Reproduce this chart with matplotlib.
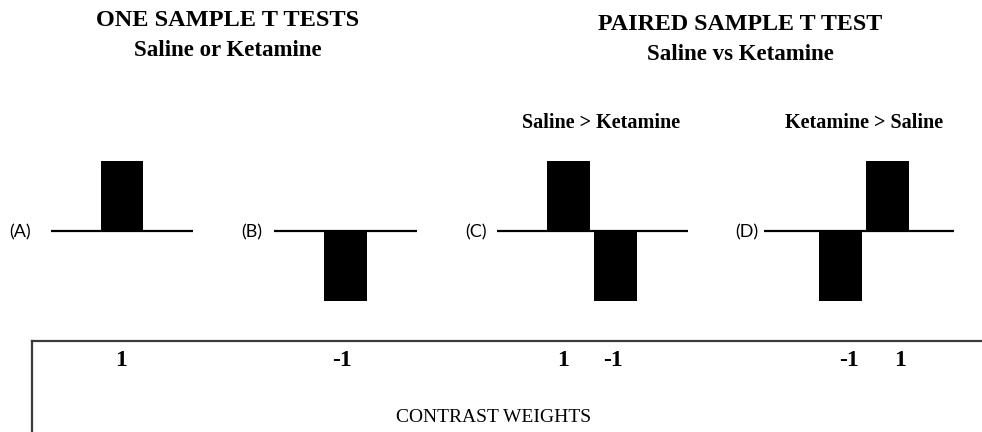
import matplotlib
matplotlib.use('Agg')
import matplotlib.pyplot as plt
from matplotlib.lines import Line2D

# contrast weights for each panel
panel_labels = ['(A)', '(B)', '(C)', '(D)']
weights_A = [1]
weights_B = [-1]
weights_C = [1, -1]
weights_D = [-1, 1]
all_weights = [weights_A, weights_B, weights_C, weights_D]

titles = ['ONE SAMPLE T TESTS', 'PAIRED SAMPLE T TEST']
subtitles = ['Saline or Ketamine', 'Saline vs Ketamine']
contrast_names = ['Saline > Ketamine', 'Ketamine > Saline']

W, H = 982, 432
fig = plt.figure(figsize=(W / 100, H / 100), dpi=100)
fig.patch.set_facecolor('white')


def fx(x):
    return x / W


def fy(y):
    return 1 - y / H


serif = 'Liberation Serif'
pitch = 47.0        # px between bar centres
y_top, y_bot = 146, 316
half = (y_bot - y_top) / 2 / 70.0

# (baseline left px, baseline right px, first bar centre px, label x px)
layout = [(51, 193, 122, 20),
          (274, 417, 345.5, 252),
          (497, 688, 568.5, 476),
          (764, 954, 840.5, 747)]

for lab, w, (x0, x1, c0, lx) in zip(panel_labels, all_weights, layout):
    ax = fig.add_axes([fx(x0), fy(y_bot), fx(x1 - x0), (y_bot - y_top) / H])
    ax.axhline(0, color='black', lw=1.6, zorder=1)
    ax.bar(range(len(w)), w, width=0.91, color='black', zorder=2)
    ax.set_xlim((x0 - c0) / pitch, (x1 - c0) / pitch)
    ax.set_ylim(-half, half)
    ax.axis('off')
    fig.text(fx(lx), fy(232), lab, fontsize=13, family='Lato',
             ha='center', va='center')

# titles
fig.text(fx(228), fy(20), titles[0], fontsize=17.5, family=serif,
         weight='bold', ha='center', va='center')
fig.text(fx(228), fy(50), subtitles[0], fontsize=16.5, family=serif,
         weight='bold', ha='center', va='center')
fig.text(fx(740), fy(24), titles[1], fontsize=17.3, family=serif,
         weight='bold', ha='center', va='center')
fig.text(fx(740), fy(55), subtitles[1], fontsize=16.5, family=serif,
         weight='bold', ha='center', va='center')
fig.text(fx(601), fy(123), contrast_names[0], fontsize=14.5, family=serif,
         weight='bold', ha='center', va='center')
fig.text(fx(864), fy(123), contrast_names[1], fontsize=14.5, family=serif,
         weight='bold', ha='center', va='center')

# contrast weights box
box_x, box_y = 32, 341
fig.add_artist(Line2D([fx(box_x), 1], [fy(box_y), fy(box_y)],
                      color='#3a3a3a', lw=1.6))
fig.add_artist(Line2D([fx(box_x), fx(box_x)], [fy(box_y), 0],
                      color='#3a3a3a', lw=1.6))

weight_x = [[121], [342], [563, 613], [849, 900]]
for w, xs in zip(all_weights, weight_x):
    for val, x in zip(w, xs):
        fig.text(fx(x), fy(361), '%d' % val, fontsize=17, family=serif,
                 weight='bold', ha='center', va='center')

fig.text(fx(494), fy(418), 'CONTRAST WEIGHTS', fontsize=14, family=serif,
         ha='center', va='center')

fig.savefig('out.png', dpi=100, facecolor='white')
